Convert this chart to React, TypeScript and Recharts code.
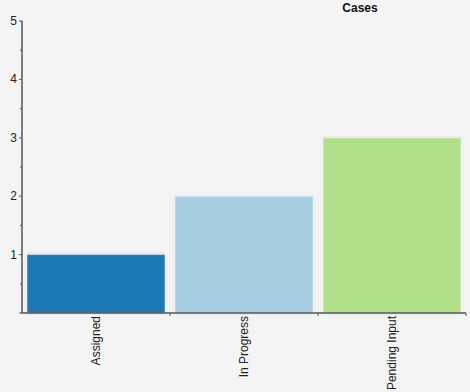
import { BarChart, Bar, XAxis, YAxis, Cell } from "recharts"

const categories = ["Assigned", "In Progress", "Pending Input"]
const cases = [1, 2, 3]
const barColors = ["#1f78b4", "#a6cee3", "#b2df8a"]
const yTicks = [0, 0.5, 1, 1.5, 2, 2.5, 3, 3.5, 4, 4.5, 5]

const data = categories.map((name, i) => ({ name, cases: cases[i] }))

const W = 470
const H = 392
const LEFT = 22
const RIGHT = 4
const HALF_BAND = (W - LEFT - RIGHT) / categories.length / 2
const AXIS_COLOR = "#555"
const FONT = "'Liberation Sans', Arial, sans-serif"

// eslint-disable-next-line @typescript-eslint/no-explicit-any
function YTick({ x, y, payload }: any) {
  const v = payload.value
  const major = Number.isInteger(v)
  return (
    <g>
      <line x1={x - (major ? 3 : 2)} x2={x} y1={y} y2={y} stroke={AXIS_COLOR} strokeWidth={1} />
      {major && v > 0 && (
        <text x={x - 5} y={y} dy={4} textAnchor="end" fontSize={12} fill="#222" fontFamily={FONT}>
          {v}
        </text>
      )}
    </g>
  )
}

// eslint-disable-next-line @typescript-eslint/no-explicit-any
function XTick({ x, y, payload }: any) {
  return (
    <g>
      <line x1={x + HALF_BAND} x2={x + HALF_BAND} y1={y} y2={y + 3} stroke={AXIS_COLOR} strokeWidth={1} />
      <text
        transform={`translate(${x + 4},${y + 3}) rotate(-90)`}
        textAnchor="end"
        fontSize={12}
        fill="#222"
        fontFamily={FONT}
      >
        {payload.value}
      </text>
    </g>
  )
}

export default function App() {
  return (
    <div style={{ position: "fixed", left: 0, top: 0, width: W, height: H, background: "#f4f4f4" }}>
      <div
        style={{
          position: "absolute",
          left: 360,
          top: 1,
          transform: "translateX(-50%)",
          fontFamily: FONT,
          fontWeight: "bold",
          fontSize: 12,
          color: "#111",
        }}
      >
        Cases
      </div>
      <svg width={0} height={0} style={{ position: "absolute" }}>
        <defs>
          <filter id="barShadow" x="-5%" y="-5%" width="110%" height="110%">
            <feDropShadow dx="0" dy="0" stdDeviation="1.2" floodColor="#000" floodOpacity="0.18" />
          </filter>
        </defs>
      </svg>
      <BarChart
        width={W}
        height={H}
        data={data}
        margin={{ top: 21, right: RIGHT, bottom: 0, left: 0 }}
        barCategoryGap={5}
      >
        <XAxis
          dataKey="name"
          height={79}
          interval={0}
          tickSize={0}
          tickMargin={0}
          tickLine={false}
          axisLine={{ stroke: AXIS_COLOR, strokeWidth: 1.5 }}
          tick={<XTick />}
        />
        <YAxis
          width={LEFT}
          domain={[0, 5]}
          ticks={yTicks}
          interval={0}
          tickSize={0}
          tickMargin={0}
          tickLine={false}
          axisLine={{ stroke: AXIS_COLOR, strokeWidth: 1.5 }}
          tick={<YTick />}
        />
        <Bar dataKey="cases" isAnimationActive={false} stroke="#ffffff" strokeOpacity={0.5} filter="url(#barShadow)">
          {data.map((d, i) => (
            <Cell key={d.name} fill={barColors[i]} />
          ))}
        </Bar>
      </BarChart>
    </div>
  )
}
